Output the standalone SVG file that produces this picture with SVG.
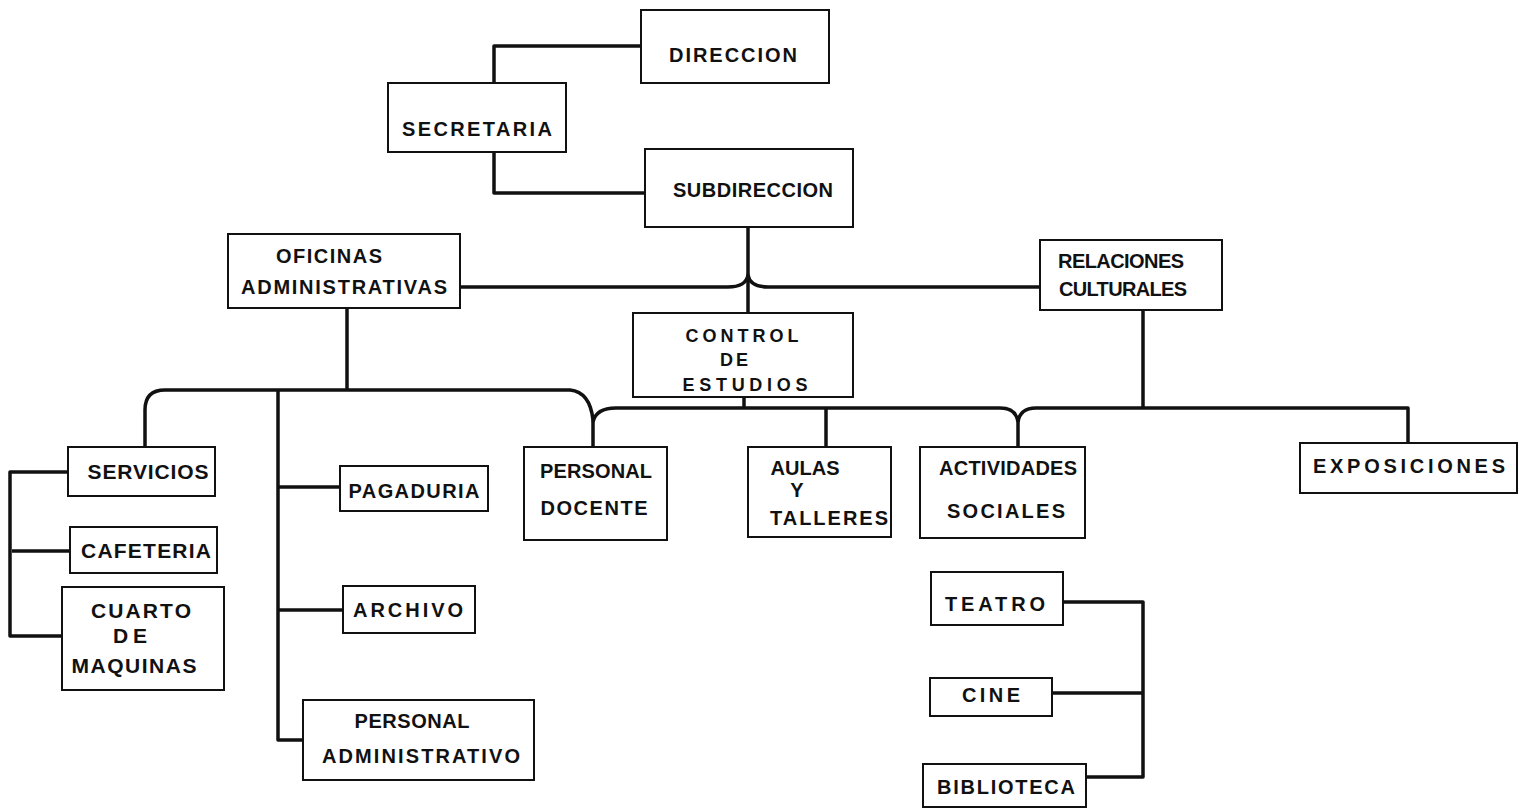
<svg xmlns="http://www.w3.org/2000/svg" width="1519" height="811" viewBox="0 0 1519 811">
<style>
.box{fill:#fff;stroke:#111;stroke-width:2}
.t{font-family:"Liberation Sans",Arial,sans-serif;font-weight:bold;font-size:20px;fill:#111;text-anchor:middle}
.l{font-size:21px}
.s{font-size:18px}
.c{fill:none;stroke:#111;stroke-width:3.5;stroke-linejoin:round}
</style>
<rect width="1519" height="811" fill="#fff"/>
<g id="connectors">
<path class="c" d="M641,46 H494 V83"/>
<path class="c" d="M494,152 V193 H645"/>
<path class="c" d="M748,227 V313"/>
<path class="c" d="M460,287 H728 Q746,287 748,275 Q750,287 768,287 H1040"/>
<path class="c" d="M347,308 V390"/>
<path class="c" d="M145,447 V410 Q145,390 165,390 H570 Q590,392 593,420 V447"/>
<path class="c" d="M593,422 Q596,408 616,408 H1000 Q1016,408 1018,422 V447"/>
<path class="c" d="M1018,422 Q1020,408 1036,408 H1408 V443"/>
<path class="c" d="M744,397 V408"/>
<path class="c" d="M826,408 V447"/>
<path class="c" d="M1143,310 V408"/>
<path class="c" d="M278,390 V740 H303"/>
<path class="c" d="M278,487 H340"/>
<path class="c" d="M278,610 H343"/>
<path class="c" d="M68,472 H10 V636 H62"/>
<path class="c" d="M12,551 H70"/>
<path class="c" d="M1063,602 H1143 V777 H1086"/>
<path class="c" d="M1052,693 H1143"/>
</g>
<g id="direccion"><rect class="box" x="641" y="10" width="188" height="73"/><text class="t" x="733" y="62" textLength="128" lengthAdjust="spacing">DIRECCION</text></g>
<g id="secretaria"><rect class="box" x="388" y="83" width="178" height="69"/><text class="t" x="477" y="136" textLength="150" lengthAdjust="spacing">SECRETARIA</text></g>
<g id="subdireccion"><rect class="box" x="645" y="149" width="208" height="78"/><text class="t" x="753" y="197" textLength="160" lengthAdjust="spacing">SUBDIRECCION</text></g>
<g id="oficinas"><rect class="box" x="228" y="234" width="232" height="74"/><text class="t" x="329" y="263" textLength="106" lengthAdjust="spacing">OFICINAS</text><text class="t" x="344" y="294" textLength="206" lengthAdjust="spacing">ADMINISTRATIVAS</text></g>
<g id="relaciones"><rect class="box" x="1040" y="240" width="182" height="70"/><text class="t" x="1121" y="268" textLength="126" lengthAdjust="spacing">RELACIONES</text><text class="t" x="1123" y="296" textLength="128" lengthAdjust="spacing">CULTURALES</text></g>
<g id="control"><rect class="box" x="633" y="313" width="220" height="84"/><text class="t s" x="742" y="342" textLength="113" lengthAdjust="spacing">CONTROL</text><text class="t s" x="734" y="366" textLength="28" lengthAdjust="spacing">DE</text><text class="t s" x="745" y="391" textLength="125" lengthAdjust="spacing">ESTUDIOS</text></g>
<g id="servicios"><rect class="box" x="68" y="447" width="147" height="49"/><text class="t l" x="148" y="479" textLength="121" lengthAdjust="spacing">SERVICIOS</text></g>
<g id="cafeteria"><rect class="box" x="70" y="527" width="147" height="46"/><text class="t l" x="146" y="558" textLength="130" lengthAdjust="spacing">CAFETERIA</text></g>
<g id="cuarto"><rect class="box" x="62" y="587" width="162" height="103"/><text class="t l" x="141" y="618" textLength="100" lengthAdjust="spacing">CUARTO</text><text class="t l" x="130" y="643" textLength="34" lengthAdjust="spacing">DE</text><text class="t l" x="134" y="673" textLength="125" lengthAdjust="spacing">MAQUINAS</text></g>
<g id="pagaduria"><rect class="box" x="340" y="466" width="148" height="45"/><text class="t" x="414" y="498" textLength="131" lengthAdjust="spacing">PAGADURIA</text></g>
<g id="archivo"><rect class="box" x="343" y="586" width="132" height="47"/><text class="t" x="408" y="617" textLength="110" lengthAdjust="spacing">ARCHIVO</text></g>
<g id="personal-admin"><rect class="box" x="303" y="700" width="231" height="80"/><text class="t" x="412" y="728" textLength="115" lengthAdjust="spacing">PERSONAL</text><text class="t" x="421" y="763" textLength="198" lengthAdjust="spacing">ADMINISTRATIVO</text></g>
<g id="personal-docente"><rect class="box" x="524" y="447" width="143" height="93"/><text class="t" x="596" y="478" textLength="112" lengthAdjust="spacing">PERSONAL</text><text class="t" x="594" y="515" textLength="107" lengthAdjust="spacing">DOCENTE</text></g>
<g id="aulas"><rect class="box" x="748" y="447" width="143" height="90"/><text class="t" x="805" y="475" textLength="69" lengthAdjust="spacing">AULAS</text><text class="t" x="797" y="497">Y</text><text class="t" x="829" y="525" textLength="118" lengthAdjust="spacing">TALLERES</text></g>
<g id="actividades"><rect class="box" x="920" y="447" width="165" height="91"/><text class="t" x="1008" y="475" textLength="138" lengthAdjust="spacing">ACTIVIDADES</text><text class="t" x="1006" y="518" textLength="118" lengthAdjust="spacing">SOCIALES</text></g>
<g id="exposiciones"><rect class="box" x="1300" y="443" width="217" height="50"/><text class="t" x="1409" y="473" textLength="192" lengthAdjust="spacing">EXPOSICIONES</text></g>
<g id="teatro"><rect class="box" x="931" y="572" width="132" height="53"/><text class="t" x="995" y="611" textLength="100" lengthAdjust="spacing">TEATRO</text></g>
<g id="cine"><rect class="box" x="930" y="678" width="122" height="38"/><text class="t" x="991" y="702" textLength="58" lengthAdjust="spacing">CINE</text></g>
<g id="biblioteca"><rect class="box" x="923" y="764" width="163" height="43"/><text class="t" x="1006" y="794" textLength="138" lengthAdjust="spacing">BIBLIOTECA</text></g>
</svg>
